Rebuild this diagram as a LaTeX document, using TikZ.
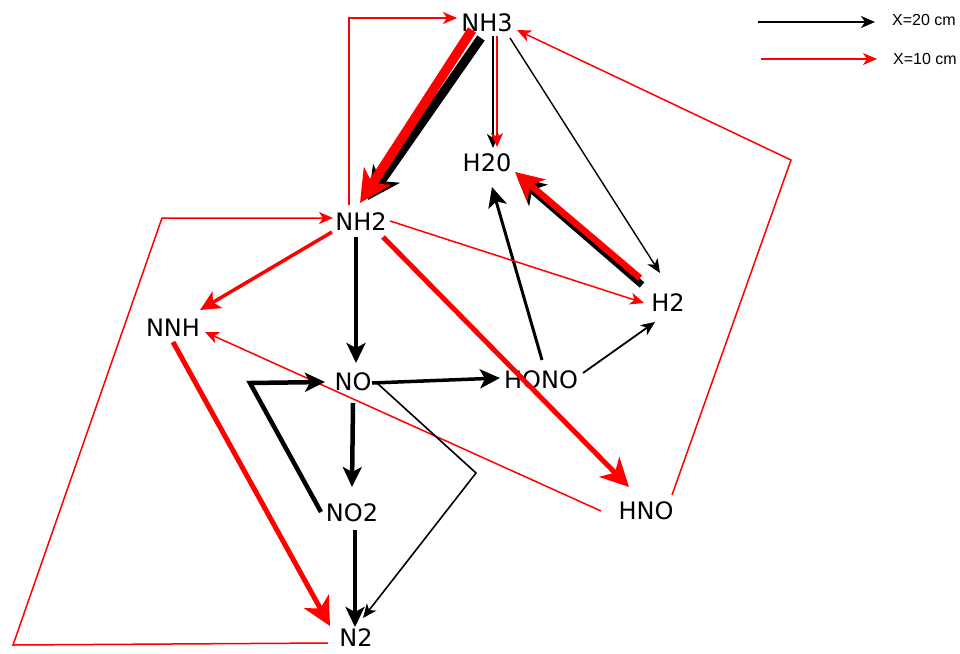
\documentclass[tikz,border=0pt]{standalone}
\usepackage{fontspec}
\setmainfont{DejaVu Sans}
\newfontfamily\legfont{Liberation Sans}
\usetikzlibrary{arrows.meta,calc}
\tikzset{
  lbl/.style={inner sep=0pt,font=\fontsize{24}{28}\selectfont},
  leg/.style={inner sep=0pt,anchor=west,font=\legfont\fontsize{16}{19}\selectfont},
  tipS/.style={-{Stealth[length=14pt,width=12pt,inset=4pt]}},
  tipM/.style={-{Stealth[length=20pt,width=19pt,inset=5pt]}},
  tipL/.style={-{Stealth[length=28pt,width=28pt,inset=8pt]}},
  tipXL/.style={-{Stealth[length=32pt,width=32pt,inset=9pt]}},
  rthin/.style={draw=red,line width=1.5pt,tipS},
  bthin/.style={draw=black,line width=1.6pt,tipS},
  rmed/.style={draw=red,line width=4pt,tipM},
  bmed/.style={draw=black,line width=4.5pt,tipM},
}
\begin{document}
\begin{tikzpicture}[x=1pt,y=-1pt]
\useasboundingbox (0,0) rectangle (960,653);
% nodes
\node[lbl] (nh3) at (487,23) {NH3};
\node[lbl] (h2o) at (487,163) {H20};
\node[lbl] (nh2) at (361,222) {NH2};
\node[lbl] (nnh) at (173,328) {NNH};
\node[lbl] (no) at (353,382) {NO};
\node[lbl] (hono) at (541,380) {HONO};
\node[lbl] (h2) at (668,303) {H2};
\node[lbl] (no2) at (352,513) {NO2};
\node[lbl] (n2) at (356,638) {N2};
\node[lbl] (hno) at (646,511) {HNO};
% corner coordinates
\coordinate (cA) at (791,160);
\coordinate (cB) at (13,645);
\coordinate (cC) at (162,218);
\coordinate (cD) at (250,383);
\coordinate (cE) at (476,473);
% legend
\coordinate (lb1) at (758,22);
\coordinate (lb2) at (875,22);
\coordinate (lr1) at (761,59);
\coordinate (lr2) at (877,59);
\draw[bthin,line width=1.5pt] (lb1) -- (lb2);
\draw[rthin] (lr1) -- (lr2);
\node[leg] (lt1) at (892,20) {X=20 cm};
\node[leg] (lt2) at (893,59) {X=10 cm};
% edges
\draw[rthin] ($(nh2)+(-12,-17)$) |- ($(nh3)+(-30,-5)$);
\draw[draw=black,line width=9pt,tipXL] ($(nh3)+(-6,15)$) -- ($(nh2)+(7,-22)$);
\draw[draw=red,line width=9.5pt,tipXL] ($(nh3)+(-15,7)$) -- ($(nh2)+(-1,-19)$);
\draw[bthin,line width=2pt] ($(nh3)+(6,13)$) -- ($(h2o)+(6,-15)$);
\draw[rthin,line width=2pt] ($(nh3)+(10,13)$) -- ($(h2o)+(10,-16)$);
\draw[bthin,line width=1.4pt] ($(nh3)+(23,15)$) -- ($(h2)+(-8,-30)$);
\draw[rthin] ($(hno)+(26,-16)$) -- (cA) -- ($(nh3)+(30,7)$);
\draw[draw=black,line width=7pt,tipL] ($(h2)+(-26,-18)$) -- ($(h2o)+(30,14)$);
\draw[draw=red,line width=6.5pt,tipL] ($(h2)+(-28,-25)$) -- ($(h2o)+(28,9)$);
\draw[bmed,line width=3pt] ($(hono)+(1,-20)$) -- ($(h2o)+(5,24)$);
\draw[bthin,line width=1.8pt] ($(hono)+(42,-7)$) -- ($(h2)+(-13,19)$);
\draw[rthin] ($(nh2)+(29,-1)$) -- ($(h2)+(-24,0)$);
\draw[rmed,line width=5pt,tipL] ($(nh2)+(22,15)$) -- ($(hno)+(-17,-24)$);
\draw[rmed,line width=3.5pt] ($(nh2)+(-29,10)$) -- ($(nnh)+(27,-18)$);
\draw[bmed] ($(nh2)+(-5,15)$) -- ($(no)+(3,-19)$);
\draw[rthin] ($(n2)+(-28,5)$) -- (cB) -- (cC) -- ($(nh2)+(-28,-4)$);
\draw[rmed,line width=5pt,tipL] ($(nnh)+(0,14)$) -- ($(n2)+(-26,-12)$);
\draw[rthin] ($(hno)+(-45,0)$) -- ($(nnh)+(32,4)$);
\draw[bmed,line width=3.5pt] ($(no)+(19,1)$) -- ($(hono)+(-41,-2)$);
\draw[bmed] ($(no)+(0,21)$) -- ($(no2)+(0,-26)$);
\draw[bmed] ($(no2)+(-31,-1)$) -- (cD) -- ($(no)+(-28,0)$);
\draw[bthin,line width=1.6pt] ($(no)+(24,1)$) -- (cE) -- ($(n2)+(7,-20)$);
\draw[bmed] ($(no2)+(3,17)$) -- ($(n2)+(-1,-11)$);
\end{tikzpicture}
\end{document}
